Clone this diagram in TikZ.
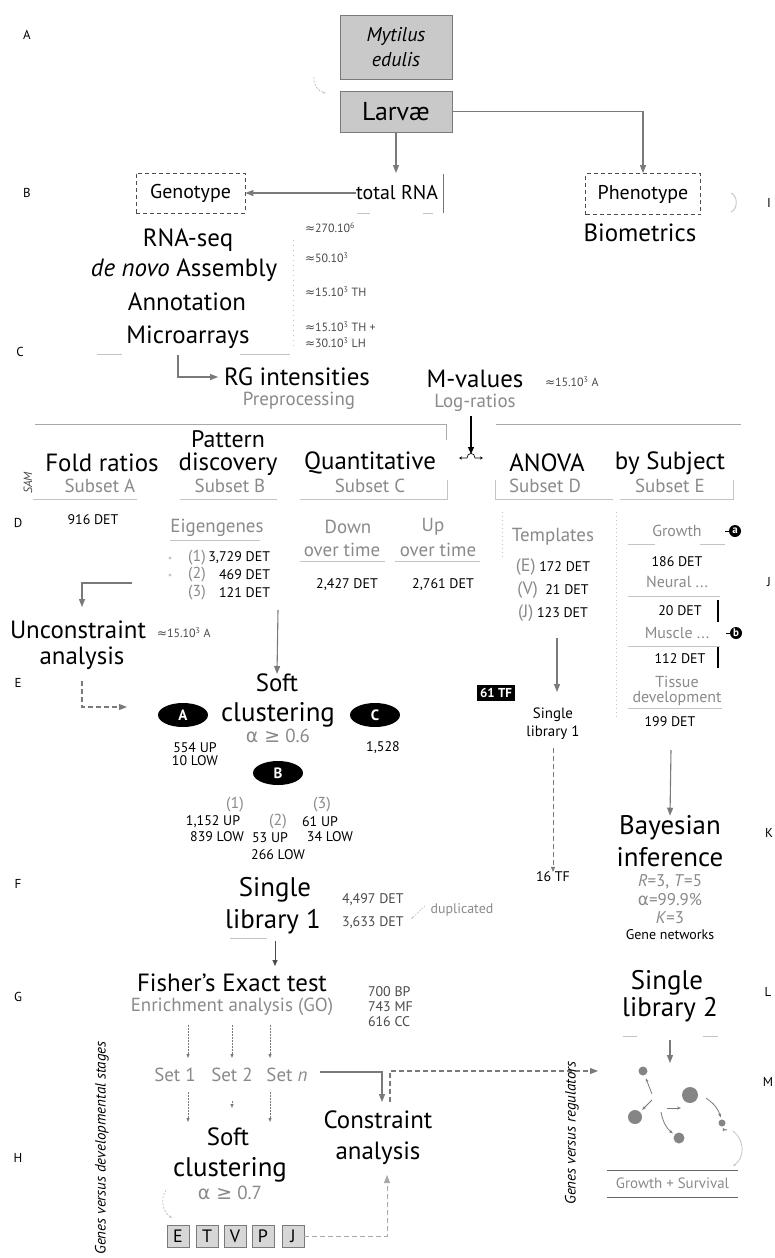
\documentclass[tikz,border=0pt]{standalone}
\usepackage{fontspec}
\setmainfont{PT Sans}
\newfontfamily\sym{DejaVu Sans}
\usetikzlibrary{arrows.meta,shapes.geometric}
\definecolor{gtext}{HTML}{8A8A8A}
\definecolor{dtext}{HTML}{4A4A4A}
\definecolor{lcol}{HTML}{7A7A7A}
\definecolor{faint}{HTML}{C4C4C4}
\definecolor{rulec}{HTML}{A8A8A8}
\definecolor{boxfill}{HTML}{C9C9C9}
\definecolor{lboxfill}{HTML}{D6D6D6}
\definecolor{ncol}{HTML}{858585}
\begin{document}
\begin{tikzpicture}[x=1bp,y=-1bp,
  base/.style={inner sep=0pt, outer sep=0pt},
  big/.style={base, font=\fontsize{25}{26}\selectfont},
  bigger/.style={base, font=\fontsize{27}{28}\selectfont},
  med/.style={base, font=\fontsize{19}{20}\selectfont, text=gtext},
  mesm/.style={base, font=\fontsize{16}{17}\selectfont, text=gtext},
  sml/.style={base, font=\fontsize{14}{15}\selectfont},
  tny/.style={base, font=\fontsize{12}{13}\selectfont, text=dtext},
  lab/.style={base, font=\fontsize{13}{14}\selectfont},
  gbox/.style={draw=lcol, fill=boxfill, line width=0.8pt, inner sep=0pt},
  dbox/.style={draw=black!70, dash pattern=on 4bp off 3bp, line width=0.8pt, inner sep=0pt, font=\fontsize{20}{21}\selectfont},
  ell/.style={ellipse, fill=black, text=white, minimum width=50bp, minimum height=24bp, inner sep=0pt, font=\bfseries\fontsize{15}{15}\selectfont},
  lbox/.style={draw=lcol, fill=lboxfill, line width=0.8pt, minimum size=22bp, inner sep=0pt, font=\fontsize{18}{18}\selectfont},
  circ/.style={circle, fill=black, text=white, minimum size=12bp, inner sep=0pt, font=\bfseries\fontsize{11}{11}\selectfont},
  conn/.style={draw=lcol, line width=1.1pt, -{Triangle[length=8bp,width=6bp]}},
  dconn/.style={conn, dash pattern=on 5bp off 3bp},
  dotc/.style={draw=lcol, line width=0.9pt, dash pattern=on 1.5bp off 1.5bp, -{Triangle[length=4bp,width=3bp]}},
  narr/.style={draw=lcol, line width=0.8pt, -{Stealth[length=4bp,width=3bp]}},
  fline/.style={draw=faint, line width=1pt},
  rule/.style={draw=rulec, line width=1pt}]
\fill[white] (0,0) rectangle (775,1258);
\useasboundingbox (0,0) rectangle (775,1258);

% side letters
\node[lab] (LA) at (27,35) {A};
\node[lab] (LB) at (27,193) {B};
\node[lab] (LC) at (20,352) {C};
\node[lab] (LD) at (18,523) {D};
\node[lab] (LE) at (18,683) {E};
\node[lab] (LF) at (18,884) {F};
\node[lab] (LG) at (18,997) {G};
\node[lab] (LH) at (18,1158) {H};
\node[lab] (LI) at (769,203) {I};
\node[lab] (LJ) at (769,582) {J};
\node[lab] (LK) at (769,833) {K};
\node[lab] (LL) at (768,992) {L};
\node[lab] (LM) at (768,1082) {M};

% top
\node[gbox, minimum width=112bp, minimum height=64bp, align=center, font=\itshape\fontsize{20}{25}\selectfont] (myt) at (396,47) {Mytilus\\edulis};
\node[gbox, minimum width=112bp, minimum height=41bp, font=\fontsize{26}{26}\selectfont] (larv) at (396,111.5) {Larvæ};
\coordinate (cu1) at (314,77);
\coordinate (cu2) at (326,93);
\draw[draw=faint, line width=0.8pt, dash pattern=on 2bp off 1.5bp, -{Stealth[length=3bp]}] (cu1) to[bend right=45] (cu2);

\node[base, minimum height=40bp, font=\fontsize{20}{21}\selectfont] (trna) at (397,193) {total RNA};
\node[dbox, minimum width=109bp, minimum height=40bp] (geno) at (190.5,193) {Genotype};
\node[dbox, minimum width=115bp, minimum height=41bp] (pheno) at (643,194) {Phenotype};
\coordinate (s1) at (443,174);
\coordinate (s2) at (443,213);
\draw[black!55, line width=0.8pt] (s1) -- (s2);
\draw[fline] (357,213) -- (370,213);
\draw[fline] (423,213) -- (433,213);
\draw[conn] (larv.south) -- (larv.south |- trna.north);
\draw[conn] (larv.east) -| (pheno.north);
\draw[conn] (trna.west) -- (geno.east);
\node[big] (bio) at (640,233) {Biometrics};
\coordinate (pa1) at (731,193);
\coordinate (pa2) at (731,212);
\draw[draw=faint, line width=0.9pt] (pa1) .. controls (738,196) and (738,209) .. (pa2);

% left column
\node[big] (rnaseq) at (188,240) {RNA-seq};
\node[big] (denovo) at (184,270) {\textit{de novo} Assembly};
\node[big] (annot) at (187,302) {Annotation};
\node[big] (micro) at (188,337) {Microarrays};
\node[tny, anchor=west] (n1) at (305,228) {{\sym≈}270.10\textsuperscript{6}};
\node[tny, anchor=west] (n2) at (305,258) {{\sym≈}50.10\textsuperscript{3}};
\node[tny, anchor=west] (n3) at (305,292) {{\sym≈}15.10\textsuperscript{3} TH};
\node[tny, anchor=west] (n4) at (305,327) {{\sym≈}15.10\textsuperscript{3} TH +};
\node[tny, anchor=west] (n5) at (305,343) {{\sym≈}30.10\textsuperscript{3} LH};
\draw[fline] (97,354) -- (122,354);
\draw[fline] (240,354) -- (290,354);
\draw[draw=faint, line width=0.6pt, dash pattern=on 1bp off 4bp] (293,240) -- (293,350);

\node[big, inner xsep=6bp] (rg) at (297,377) {RG intensities};
\node[med] (prep) at (299,401) {Preprocessing};
\coordinate (mc) at (178,355);
\draw[conn] (mc) |- (rg.west);
\node[big] (mval) at (475,379) {M-values};
\node[med] (logr) at (475,403) {Log-ratios};
\node[tny, anchor=west] (n15a) at (545,382) {{\sym≈}15.10\textsuperscript{3} A};

% rules
\draw[rule] (35,424) -- (446,424) -- (446,440);
\draw[rule] (496,424) -- (741,424);
\node[base, minimum width=24bp, minimum height=8bp] (swap) at (471,458) {};
\draw[black, line width=1.3pt, -{Triangle[length=7bp,width=6bp]}] (logr.south -| swap.north) ++(0,4) -- (swap.north);
\draw[black, line width=0.7pt, {Stealth[length=3bp,width=3bp]}-{Stealth[length=3bp,width=3bp]}] (swap.west) -- (467,458) .. controls (467,452) and (475,452) .. (475,458) -- (swap.east);

% headers
\node[big] (fold) at (102,463) {Fold ratios};
\node[big, font=\fontsize{24}{25}\selectfont] (patt) at (228,439) {Pattern};
\node[big] (disc) at (228,464) {discovery};
\node[big] (quant) at (370,463) {Quantitative};
\node[big] (anova) at (547,463) {ANOVA};
\node[big] (bysub) at (670,463) {by Subject};
\node[med] (subA) at (100,486) {Subset A};
\node[med] (subB) at (230,486) {Subset B};
\node[med] (subC) at (370,486) {Subset C};
\node[med] (subD) at (545,486) {Subset D};
\node[med] (subE) at (670,486) {Subset E};
\node[base, rotate=90, font=\itshape\fontsize{12}{12}\selectfont, text=dtext] (sam) at (28,483) {SAM};
\draw[fline] (33,499) -- (137,499);
\draw[fline] (180,499) -- (277,499);
\draw[fline] (300,499) -- (447,499) -- (447,480);
\draw[fline] (495,480) -- (495,499) -- (613,499);
\draw[fline] (620,499) -- (733,499) -- (733,480);

% subset A/B/C details
\node[sml] (det916) at (93,520) {916 DET};
\node[med] (eigen) at (217,528) {Eigengenes};
\draw[fline] (170,540) -- (260,540);
\node[med] (down) at (348,527) {Down};
\node[med] (up) at (433,527) {Up};
\node[med] (ot1) at (342,550) {over time};
\node[med] (ot2) at (438,550) {over time};
\draw[fline] (300,561) -- (385,561);
\draw[fline] (395,561) -- (480,561);
\node[mesm] (p1) at (197,558) {(1)};
\node[mesm] (p2) at (197,575) {(2)};
\node[mesm] (p3) at (197,593) {(3)};
\node[sml, anchor=east] (e1) at (270,558) {3,729 DET};
\node[sml, anchor=east] (e2) at (270,575) {469 DET};
\node[sml, anchor=east] (e3) at (270,593) {121 DET};
\fill[faint] (170,558) circle (1.6);
\fill[faint] (170,575) circle (1.6);
\node[sml] (d2427) at (347,585) {2,427 DET};
\node[sml] (d2761) at (443,585) {2,761 DET};

% unconstraint
\coordinate (fa) at (132,583);
\coordinate (fb) at (82,607);
\draw[conn] (fa) -| (fb);
\node[big] (uncon) at (78,630) {Unconstraint};
\node[big] (anal1) at (82,658) {analysis};
\node[tny, anchor=west] (n15b) at (157,633) {{\sym≈}15.10\textsuperscript{3} A};
\coordinate (da) at (82,681);
\coordinate (db) at (127,707);
\draw[dconn] (da) |- (db);

% soft clustering 1
\coordinate (ea) at (278,610);
\node[big] (soft1) at (277,683) {Soft};
\draw[conn] (ea) -- (soft1.north);
\node[bigger] (clus1) at (278,715) {clustering};
\node[med] (al1) at (278,736) {{\sym α ≥} 0.6};
\node[ell] (elA) at (183,715) {A};
\node[ell] (elC) at (375,715) {C};
\node[ell] (elB) at (278,773) {B};
\node[sml, align=center, font=\fontsize{14}{13}\selectfont] (ca554) at (195,754) {554 UP\\10 LOW};
\node[sml] (c1528) at (383,748) {1,528};
\node[mesm] (q1) at (235,805) {(1)};
\node[mesm] (q2) at (278,822) {(2)};
\node[mesm] (q3) at (322,805) {(3)};
\node[sml] (b1a) at (213,822) {1,152 UP};
\node[sml] (b1b) at (217,837) {839 LOW};
\node[sml] (b2a) at (270,838) {53 UP};
\node[sml] (b2b) at (278,855) {266 LOW};
\node[sml] (b3a) at (320,822) {61 UP};
\node[sml] (b3b) at (330,837) {34 LOW};

% ANOVA column
\node[med] (templ) at (553,537) {Templates};
\node[sml] (tE) at (553,567) {{\color{gtext}\fontsize{18}{18}\selectfont(E)} 172 DET};
\node[sml] (tV) at (553,590) {{\color{gtext}\fontsize{18}{18}\selectfont(V)}\ \ 21 DET};
\node[sml] (tJ) at (553,613) {{\color{gtext}\fontsize{18}{18}\selectfont(J)} 123 DET};
\draw[draw=faint, line width=0.7pt, dash pattern=on 1bp off 3bp] (616,512) -- (616,720);
\draw[draw=faint, line width=0.7pt, dash pattern=on 1bp off 3bp] (502,512) -- (502,560);
\node[fill=black, text=white, font=\bfseries\fontsize{13}{13}\selectfont, inner sep=3bp] (tf61) at (496,693) {61 TF};
\coordinate (ta) at (557,638);
\coordinate (tb) at (557,692);
\draw[conn] (ta) -- (tb);
\node[base, align=center, font=\fontsize{15}{18}\selectfont] (sls) at (553,724) {Single\\library 1};
\node[sml] (tf16) at (553,877) {16 TF};
\draw[dconn, line width=0.8pt, -{Triangle[length=5bp,width=4bp]}] (sls.south) ++(0,8) -- (tf16.north);

% by subject column
\node[mesm] (grow) at (677,531) {Growth};
\node[circ] (cia) at (735,531) {a};
\coordinate (cia0) at (725,531);
\draw[black, line width=0.8pt] (cia0) -- (cia.west);
\draw[fline] (628,544) -- (655,544);
\draw[fline] (700,544) -- (725,544);
\node[sml] (d186) at (677,562) {186 DET};
\node[mesm] (neur) at (677,582) {Neural ...};
\draw[fline] (628,596) -- (720,596);
\node[sml] (d20) at (680,611) {20 DET};
\coordinate (v1a) at (718,600);
\coordinate (v1b) at (718,622);
\draw[black, line width=1.4pt] (v1a) -- (v1b);
\node[mesm] (musc) at (677,633) {Muscle ...};
\node[circ] (cib) at (736,633) {b};
\coordinate (cib0) at (726,633);
\draw[black, line width=0.8pt] (cib0) -- (cib.west);
\draw[fline] (628,646) -- (720,646);
\node[sml] (d112) at (680,659) {112 DET};
\coordinate (v2a) at (718,647);
\coordinate (v2b) at (718,668);
\draw[black, line width=1.4pt] (v2a) -- (v2b);
\node[mesm] (tiss) at (677,682) {Tissue};
\node[mesm] (devel) at (677,699) {development};
\draw[fline] (628,708) -- (722,708);
\node[sml] (d199) at (670,722) {199 DET};
\coordinate (ba) at (671,750);
\node[bigger] (bay) at (670,828) {Bayesian};
\draw[conn] (ba) -- (bay.north);
\node[bigger] (infer) at (670,857) {inference};
\node[base, font=\fontsize{17}{18}\selectfont, text=gtext] (prm1) at (670,882) {\textit{R}=3, \textit{T}=5};
\node[base, font=\fontsize{17}{18}\selectfont, text=gtext] (prm2) at (670,900) {{\sym α}=99.9\%};
\node[base, font=\fontsize{17}{18}\selectfont, text=gtext] (prm3) at (670,918) {\textit{K}=3};
\node[sml] (gnet) at (670,935) {Gene networks};

% single library 1
\node[bigger] (sl1a) at (275,890) {Single};
\node[bigger] (sl1b) at (273,922) {library 1};
\node[sml, anchor=west, text=dtext] (d4497) at (342,900) {4,497 DET};
\node[sml, anchor=west, text=dtext] (d3633) at (342,923) {3,633 DET};
\node[base, font=\fontsize{14}{15}\selectfont, text=gtext] (dupl) at (462,910) {duplicated};
\coordinate (du1) at (425,906);
\coordinate (du2) at (411,919);
\draw[draw=faint, line width=0.7pt, dash pattern=on 1.5bp off 1.5bp, -{Stealth[length=3bp]}] (du1) -- (du2);
\draw[fline] (230,938) -- (267,938);
\coordinate (fe0) at (275,941);
\coordinate (fe) at (275,966);
\draw[draw=black!70, line width=0.8pt, -{Triangle[length=6bp,width=5bp]}] (fe0) -- (fe);

% Fisher
\node[big] (fish) at (232,983) {Fisher’s Exact test};
\node[med] (enr) at (232,1007) {Enrichment analysis (GO)};
\node[sml, anchor=west, align=left, font=\fontsize{14}{15}\selectfont, text=dtext] (go) at (368,1007) {700 BP\\743 MF\\616 CC};
\coordinate (x1a) at (188,1025); \coordinate (x1b) at (188,1058);
\coordinate (x2a) at (232,1025); \coordinate (x2b) at (232,1058);
\coordinate (x3a) at (270,1025); \coordinate (x3b) at (270,1058);
\draw[dotc] (x1a) -- (x1b);
\draw[dotc] (x2a) -- (x2b);
\draw[dotc] (x3a) -- (x3b);
\node[med] (set1) at (175,1075) {Set 1};
\node[med] (set2) at (232,1075) {Set 2};
\node[med] (setn) at (287,1075) {Set \textit{n}};
\coordinate (y1a) at (188,1092); \coordinate (y1b) at (188,1122);
\coordinate (y2a) at (232,1101); \coordinate (y2b) at (232,1108);
\coordinate (y3a) at (270,1092); \coordinate (y3b) at (270,1122);
\draw[dotc] (y1a) -- (y1b);
\draw[dotc] (y2a) -- (y2b);
\draw[dotc] (y3a) -- (y3b);
\coordinate (sn) at (320,1072);
\coordinate (ca1) at (382,1102);
\draw[conn] (sn) -| (ca1);
\coordinate (cd1) at (390,1102);
\coordinate (netin) at (598,1071);
\draw[dconn] (cd1) |- (netin);
\node[big] (constr) at (378,1120) {Constraint};
\node[big] (anal2) at (378,1153) {analysis};
\node[big] (soft2) at (228,1137) {Soft};
\node[bigger] (clus2) at (230,1170) {clustering};
\node[med] (al2) at (230,1193) {{\sym α ≥} 0.7};
\node[base, rotate=90, font=\itshape\fontsize{15}{15}\selectfont] (gvd) at (102,1148) {Genes versus developmental stages};
\node[lbox] (bE) at (178,1236) {E};
\node[lbox] (bT) at (207,1236) {T};
\node[lbox] (bV) at (235,1236) {V};
\node[lbox] (bP) at (263,1236) {P};
\node[lbox] (bJ) at (293,1236) {J};
\coordinate (cj) at (387,1175);
\draw[dconn, draw=rulec, line width=0.9pt] (bJ.east) -| (cj);
\coordinate (k1) at (166,1190);
\coordinate (k2) at (172,1218);
\draw[draw=faint, line width=0.8pt, dash pattern=on 2bp off 1.5bp, -{Stealth[length=3bp]}] (k1) to[bend right=45] (k2);

% single library 2 and network
\node[bigger] (sl2a) at (667,983) {Single};
\node[bigger] (sl2b) at (670,1010) {library 2};
\draw[fline] (623,1036) -- (637,1036);
\draw[fline] (703,1036) -- (718,1036);
\coordinate (la) at (670,1040);
\coordinate (lb) at (670,1063);
\draw[conn] (la) -- (lb);
\node[base, rotate=90, font=\itshape\fontsize{15}{15}\selectfont] (gvr) at (572,1133) {Genes versus regulators};
\node[circle, fill=ncol, minimum size=9bp, inner sep=0pt] (g1) at (643,1071) {};
\node[circle, fill=ncol, minimum size=14bp, inner sep=0pt] (g2) at (635,1117) {};
\node[circle, fill=ncol, minimum size=16bp, inner sep=0pt] (g3) at (690,1095) {};
\node[circle, fill=ncol, minimum size=11bp, inner sep=0pt] (g4) at (679,1138) {};
\node[circle, fill=ncol, minimum size=7bp, inner sep=0pt] (g5) at (722,1123) {};
\coordinate (h1) at (652,1094);
\coordinate (h2) at (652,1100);
\coordinate (h3) at (667,1108);
\coordinate (h4) at (661,1112);
\coordinate (h5) at (706,1098);
\coordinate (h6) at (727,1130);
\draw[narr, shorten >=3bp] (h1) -- (g1);
\draw[narr, shorten >=3bp] (h2) -- (g2);
\draw[narr] (h3) -- (681,1108);
\draw[narr, shorten >=2bp] (h4) to[bend right=20] (g4);
\draw[narr, shorten >=2bp] (h5) to[bend left=20] (g5);
\draw[narr, shorten >=1bp] (h6) to[bend left=30] (g5);
\coordinate (h7) at (733,1131);
\coordinate (h8) at (733,1166);
\draw[draw=faint, line width=0.8pt, -{Stealth[length=3bp]}] (h7) .. controls (745,1140) and (745,1158) .. (h8);
\node[base, minimum width=131bp, minimum height=27bp, font=\fontsize{15}{16}\selectfont, text=gtext] (gs) at (672.5,1183.5) {Growth + Survival};
\draw[black!60, line width=0.8pt] (gs.north west) -- (gs.north east);
\draw[black!60, line width=0.8pt] (gs.south west) -- (gs.south east);
\end{tikzpicture}
\end{document}
